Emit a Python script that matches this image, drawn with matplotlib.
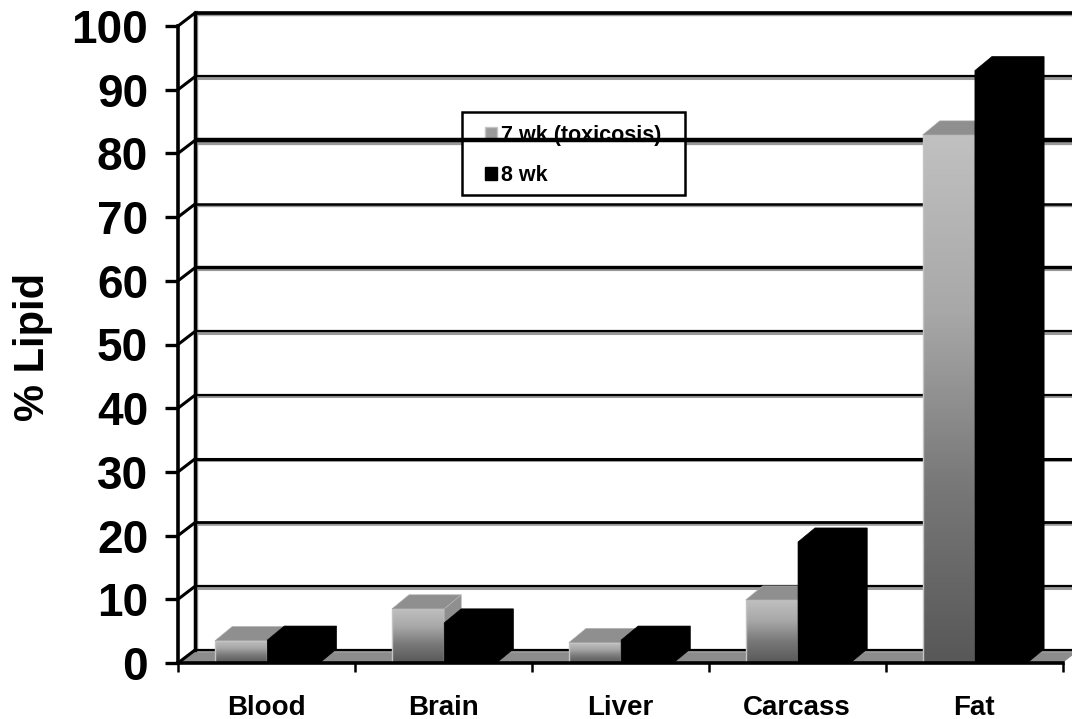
import numpy as np
import matplotlib
matplotlib.use("Agg")
import matplotlib.pyplot as plt
from matplotlib.colors import LinearSegmentedColormap
from matplotlib.patches import Patch, Polygon, Rectangle

plt.rcParams['font.family'] = ['Liberation Sans', 'DejaVu Sans']
plt.rcParams['font.weight'] = 'bold'

categories = ['Blood', 'Brain', 'Liver', 'Carcass', 'Fat']
wk7 = [3.5, 8.5, 3.2, 9.9, 82.9]
wk8 = [3.6, 6.3, 3.6, 19.0, 93.0]
series_names = ['7 wk (toxicosis)', '8 wk']
y_ticks = [0, 10, 20, 30, 40, 50, 60, 70, 80, 90, 100]
grid_widths = [1.6, 1.6, 2.0, 2.2, 1.6, 1.6, 2.4, 1.8, 3.2, 1.6, 2.6]

W, H = 1072, 719
fig = plt.figure(figsize=(W / 100, H / 100), dpi=100)
ax = fig.add_axes([178 / W, 1 - 663 / H, (1062.5 - 178) / W, (663 - 26) / H])
ax.set_xlim(0, 5)
ax.set_ylim(0, 100)

# depth of the fake 3d box, in data units
dx = 0.096
dy = 2.04
bar_dy = 2.2
bar_w = 0.295
bar_start = 0.21

# floor
ax.add_patch(Polygon([(0, 0), (5, 0), (5 + dx, dy), (dx, dy)], closed=True,
                     facecolor='#8c8c8c', edgecolor='none', zorder=1, clip_on=False))

# back wall lines, side wall diagonals
for v, lw in zip(y_ticks, grid_widths):
    ax.plot([dx, 5 + dx], [v + dy - 0.2, v + dy - 0.2], color='#999999', lw=lw + 0.6, zorder=2,
            clip_on=False, solid_capstyle='butt')
    ax.plot([dx, 5 + dx], [v + dy + 0.05, v + dy + 0.05], color='black', lw=lw, zorder=4,
            clip_on=False, solid_capstyle='butt')
    ax.plot([0, dx], [v, v + dy], color='black', lw=2.2, zorder=4, clip_on=False)
ax.plot([dx + 0.006, dx + 0.006], [dy, 100 + dy], color='#999999', lw=3.2, zorder=2, clip_on=False)
ax.plot([dx, dx], [dy, 100 + dy], color='black', lw=2.4, zorder=4, clip_on=False)

gradient = np.linspace(0, 1, 64).reshape(-1, 1)
bar_cmap = LinearSegmentedColormap.from_list('bar', ['#c0c0c0', '#a8a8a8', '#787878', '#585858'])


def draw_gray_bar(x, v):
    ax.imshow(gradient, extent=[x, x + bar_w, 0, v], cmap=bar_cmap, vmin=0, vmax=1,
              aspect='auto', zorder=5, interpolation='bilinear')
    ax.add_patch(Rectangle((x, 0), bar_w, v, facecolor='none', edgecolor='#c4c4c4', lw=1.0, zorder=5))
    ax.add_patch(Polygon([(x, v), (x + dx, v + bar_dy), (x + bar_w + dx, v + bar_dy), (x + bar_w, v)],
                         closed=True, facecolor='#8f8f8f', edgecolor='#a8a8a8', lw=0.5, zorder=5))
    ax.add_patch(Polygon([(x + bar_w, 0), (x + bar_w + dx, bar_dy), (x + bar_w + dx, v + bar_dy), (x + bar_w, v)],
                         closed=True, facecolor='#8f8f8f', edgecolor='#b4b4b4', lw=0.5, zorder=5))


def draw_black_bar(x, v):
    ax.add_patch(Polygon([(x, 0), (x + bar_w, 0), (x + bar_w + dx, bar_dy), (x + bar_w + dx, v + bar_dy),
                          (x + dx, v + bar_dy), (x, v)],
                         closed=True, facecolor='black', edgecolor='black', lw=0.5, zorder=5))


for i in range(len(categories)):
    draw_gray_bar(i + bar_start, wk7[i])
    draw_black_bar(i + bar_start + bar_w, wk8[i])

ax.set_xlim(0, 5)
ax.set_ylim(0, 100)

ax.spines['top'].set_visible(False)
ax.spines['right'].set_visible(False)
for s in ['left', 'bottom']:
    ax.spines[s].set_linewidth(2.6)
    ax.spines[s].set_zorder(6)

ax.set_yticks(y_ticks)
ax.tick_params(axis='y', which='major', length=9.5, width=2.4, pad=12, labelsize=33)
ax.set_xticks(range(len(categories) + 1))
ax.set_xticklabels([])
ax.tick_params(axis='x', which='major', length=6.5, width=1.8)
ax.set_xticks(np.arange(len(categories)) + 0.5, labels=categories, minor=True)
ax.tick_params(axis='x', which='minor', length=0, pad=23, labelsize=20)

fig.text(33 / W, 1 - 347 / H, '% Lipid', rotation=90, fontsize=30, fontweight='bold',
         ha='center', va='center')

# legend box drawn apart so its size can follow the original
ax.add_patch(Rectangle((462 / W, 1 - 195 / H), (685 - 462) / W, (195 - 112) / H, transform=fig.transFigure,
                       facecolor='white', edgecolor='black', lw=1.8, zorder=3, clip_on=False))
handles = [Patch(facecolor='#9a9a9a', edgecolor='#c4c4c4'), Patch(facecolor='black', edgecolor='black')]
leg = ax.legend(handles, series_names, loc='upper left',
                bbox_to_anchor=(485 / W, 1 - 125 / H), bbox_transform=fig.transFigure,
                fontsize=15.5, frameon=False, handlelength=0.55, handleheight=0.6, handletextpad=0.18,
                labelspacing=0.88, borderpad=0, borderaxespad=0)
leg.set_zorder(3.5)

fig.savefig('out.png', dpi=100)
